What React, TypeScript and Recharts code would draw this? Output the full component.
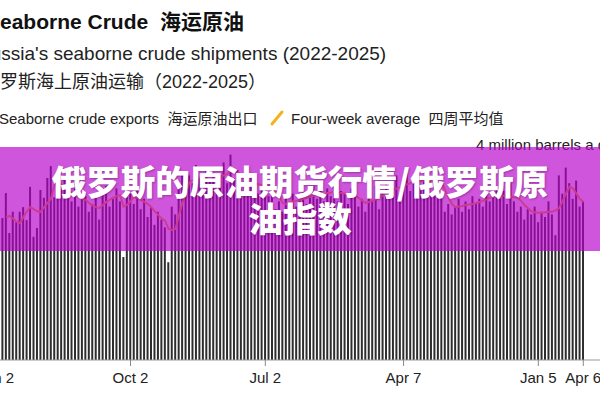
import { ComposedChart, Bar, Line, XAxis, YAxis } from "recharts";

// weekly Russian seaborne crude exports, million barrels a day (Jan 2 2022 .. Apr 6 2025)
const exports = [
  2.6, 2.45, 2.73, 3.21, 2.44, 2.85, 2.65, 2.85, 2.94, 2.69,
  3.33, 2.37, 2.54, 3.27, 3.12, 3.5, 3.73, 3.13, 3.4, 3.35,
  3.55, 3.2, 3.05, 3.3, 2.95, 3.1, 3.15, 2.85, 3.0, 3.2,
  2.7, 3.25, 3.35, 2.95, 3.1, 3.3, 3.05, 1.98, 3.45, 3.2,
  3.0, 3.25, 2.9, 3.1, 2.75, 2.95, 2.6, 2.85, 2.7, 2.55,
  1.88, 2.95, 2.8, 3.45, 3.6, 3.3, 3.55, 3.4, 3.75, 3.5,
  3.35, 3.7, 3.45, 3.6, 3.3, 3.55, 3.8, 3.4, 3.95, 3.5,
  3.65, 3.3, 3.45, 3.25, 3.6, 3.4, 3.2, 3.35, 3.5, 3.15,
  3.3, 2.9, 3.05, 2.85, 3.15, 3.0, 3.2, 2.95, 3.1, 3.25,
  3.0, 3.15, 3.35, 3.1, 3.25, 3.05, 3.3, 3.15, 3.4, 3.05,
  3.25, 3.2, 3.0, 3.3, 3.15, 2.95, 3.1, 2.85, 3.2, 3.05,
  3.35, 2.9, 3.25, 3.4, 3.1, 3.3, 3.55, 3.2, 3.45, 3.6,
  3.25, 3.4, 3.7, 3.3, 3.55, 3.45, 3.2, 3.5, 3.35, 3.15,
  2.85, 3.0, 2.8, 2.95, 3.1, 2.85, 3.05, 2.9, 3.15, 3.0,
  3.1, 2.95, 3.25, 3.05, 3.2, 3.3, 3.1, 3.25, 3.0, 3.4,
  3.05, 2.85, 2.95, 2.7, 2.9, 2.8, 2.95, 2.65, 2.85, 2.75,
  3.05, 2.8, 2.4, 3.55, 3.2, 3.7, 3.4, 3.1, 3.45, 2.95,
  3.05,
];

const fourWeekAvg = [
  null, null, null, 2.75, 2.77, 2.72, 2.66, 2.63, 2.75, 2.86,
  2.94, 2.9, 2.86, 2.85, 2.94, 3.02, 3.1, 3.37, 3.42, 3.38,
  3.32, 3.27, 3.22, 3.18, 3.13, 3.1, 3.08, 3.02, 2.97, 2.94,
  2.92, 2.98, 3.04, 3.08, 3.12, 3.15, 3.17, 2.95, 2.98, 3.05,
  3.14, 3.12, 3.08, 3.04, 3.0, 2.94, 2.86, 2.79, 2.72, 2.68,
  2.52, 2.5, 2.52, 2.78, 3.02, 3.2, 3.42, 3.46, 3.5, 3.52,
  3.5, 3.53, 3.55, 3.53, 3.5, 3.52, 3.55, 3.58, 3.65, 3.62,
  3.6, 3.52, 3.48, 3.45, 3.42, 3.4, 3.38, 3.36, 3.37, 3.35,
  3.37, 3.25, 3.15, 3.02, 3.0, 3.03, 3.05, 3.06, 3.08, 3.1,
  3.12, 3.14, 3.16, 3.18, 3.2, 3.19, 3.21, 3.22, 3.24, 3.22,
  3.21, 3.2, 3.18, 3.19, 3.16, 3.12, 3.07, 3.02, 3.04, 3.06,
  3.09, 3.12, 3.16, 3.2, 3.24, 3.27, 3.3, 3.32, 3.34, 3.38,
  3.4, 3.42, 3.43, 3.44, 3.45, 3.44, 3.42, 3.41, 3.4, 3.4,
  3.28, 3.12, 3.0, 2.94, 2.95, 2.96, 2.98, 2.99, 3.0, 3.02,
  3.04, 3.06, 3.09, 3.12, 3.14, 3.16, 3.17, 3.16, 3.15, 3.14,
  3.13, 3.12, 3.06, 2.98, 2.92, 2.86, 2.84, 2.83, 2.83, 2.84,
  2.85, 2.85, 2.88, 2.92, 3.05, 3.2, 3.33, 3.3, 3.2, 3.1,
  3.04,
];

// week index of each labelled tick
const tickWeeks = [0, 39, 78, 118, 157, 170];
const tickLabels = ["Jan 2", "Oct 2", "Jul 2", "Apr 7", "Jan 5", "Apr 6"];

const data = exports.map((v, i) => ({ week: i, exports: v, avg: fourWeekAvg[i] }));

const FONT = '"Liberation Sans", Arial, "Noto Sans CJK SC", sans-serif';

const text = (extra: React.CSSProperties): React.CSSProperties => ({
  position: "absolute",
  whiteSpace: "nowrap",
  fontFamily: FONT,
  color: "#111",
  lineHeight: 1,
  ...extra,
});

export default function App() {
  return (
    <div
      style={{
        position: "absolute",
        left: 0,
        top: 0,
        width: 600,
        height: 400,
        overflow: "hidden",
        background: "#fff",
      }}
    >
      <div style={text({ left: -14, top: 11, fontSize: 21, fontWeight: 700 })}>
        Seaborne Crude&nbsp;&nbsp;海运原油
      </div>
      <div style={text({ left: -23, top: 44, fontSize: 19, color: "#222" })}>
        Russia's seaborne crude shipments (2022-2025)
      </div>
      <div style={text({ left: -18, top: 73, fontSize: 18, color: "#222" })}>
        俄罗斯海上原油运输（2022-2025）
      </div>
      <div style={text({ left: -1, top: 111, fontSize: 15, color: "#222" })}>
        Seaborne crude exports&nbsp;&nbsp;海运原油出口
      </div>
      <svg style={{ position: "absolute", left: 268, top: 109 }} width={18} height={18}>
        <line x1={4} y1={15} x2={14} y2={3} stroke="#f2b31b" strokeWidth={3} strokeLinecap="round" />
      </svg>
      <div style={text({ left: 291, top: 111, fontSize: 15, color: "#222" })}>
        Four-week average&nbsp;&nbsp;四周平均值
      </div>
      <div style={text({ left: 476, top: 137, fontSize: 15, color: "#222" })}>
        4 million barrels a day
      </div>

      <div style={{ position: "absolute", left: -6, top: 0 }}>
        <ComposedChart
          width={606}
          height={400}
          data={data}
          margin={{ top: 152, right: 0, bottom: 0, left: 0 }}
          barCategoryGap="14%"
        >
          <XAxis
            dataKey="week"
            type="category"
            ticks={tickWeeks}
            interval={0}
            tickFormatter={(w) => tickLabels[tickWeeks.indexOf(Number(w))] ?? ""}
            tick={{ fontSize: 15, fill: "#222", fontFamily: FONT }}
            tickLine={{ stroke: "#888" }}
            axisLine={{ stroke: "#999" }}
            tickSize={6}
            tickMargin={6}
            height={40}
            padding={{ left: 0, right: 15 }}
          />
          <YAxis hide domain={[0, 4]} />
          <Bar dataKey="exports" fill="#2d2d2d" isAnimationActive={false} />
          <Line
            type="linear"
            dataKey="avg"
            stroke="#f2b31b"
            strokeWidth={2}
            dot={false}
            activeDot={false}
            isAnimationActive={false}
          />
        </ComposedChart>
      </div>

      <div
        style={{
          position: "absolute",
          left: 0,
          top: 147,
          width: 600,
          height: 104,
          background: "rgba(184, 2, 203, 0.67)",
          display: "flex",
          alignItems: "center",
          justifyContent: "center",
        }}
      >
        <div
          style={{
            fontFamily: '"Noto Sans CJK SC", sans-serif',
            fontWeight: 900,
            fontSize: 34.5,
            lineHeight: "37px",
            color: "#fff",
            textAlign: "center",
            width: 520,
            textShadow: "1px 1px 2px rgba(60,0,60,0.35)",
          }}
        >
          俄罗斯的原油期货行情/俄罗斯原油指数
        </div>
      </div>
    </div>
  );
}
